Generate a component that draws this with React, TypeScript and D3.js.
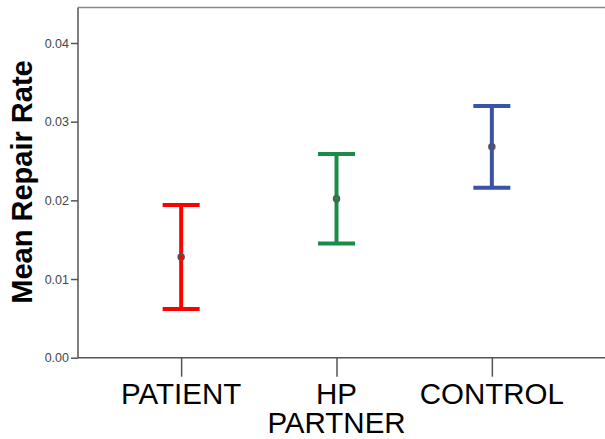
import React, { useEffect, useRef } from 'react';
import * as d3 from 'd3';

const groups = ['PATIENT', 'HP PARTNER', 'CONTROL'];
const means = [0.0128, 0.0202, 0.0268];
const lower = [0.0062, 0.0145, 0.0216];
const upper = [0.0194, 0.0259, 0.032];
const colors = ['#ff0000', '#1a8c47', '#3a53a6'];
const yTicks = [0, 0.01, 0.02, 0.03, 0.04];

const width = 605;
const height = 439;

const App = () => {
  const container = useRef(null);

  useEffect(() => {
    const svg = d3
      .select(container.current)
      .selectAll('svg')
      .data([0])
      .join('svg')
      .attr('width', width)
      .attr('height', height)
      .style('position', 'absolute')
      .style('left', 0)
      .style('top', 0)
      .style('font-family', 'Arial, "Liberation Sans", sans-serif');

    svg.selectAll('*').remove();

    const left = 78;
    const top = 7.5;
    const bottom = 357.7;

    const yScale = d3.scaleLinear().domain([0, 0.04]).range([bottom, 43]);
    const xScale = d3
      .scalePoint()
      .domain(groups)
      .range([left, 595])
      .padding(0.664);

    // frame
    svg
      .append('line')
      .attr('x1', left)
      .attr('x2', width)
      .attr('y1', top)
      .attr('y2', top)
      .style('stroke', '#8a8a8a')
      .style('stroke-width', 1.5);
    svg
      .append('line')
      .attr('x1', left)
      .attr('x2', left)
      .attr('y1', top)
      .attr('y2', bottom)
      .style('stroke', '#555')
      .style('stroke-width', 1.5);
    svg
      .append('line')
      .attr('x1', left)
      .attr('x2', width)
      .attr('y1', bottom)
      .attr('y2', bottom)
      .style('stroke', '#555')
      .style('stroke-width', 1.5);

    // y axis
    const yAxis = d3
      .axisLeft(yScale)
      .tickValues(yTicks)
      .tickFormat(d3.format('.2f'))
      .tickSize(7)
      .tickPadding(2);
    const yg = svg
      .append('g')
      .attr('transform', `translate(${left},0)`)
      .call(yAxis);
    yg.select('.domain').remove();
    yg.selectAll('line').style('stroke', '#555').style('stroke-width', 1.5);
    yg.selectAll('text')
      .style('font-size', '12.5px')
      .style('fill', '#444')
      .style('font-family', 'Arial, "Liberation Sans", sans-serif');

    // x axis
    const xAxis = d3.axisBottom(xScale).tickSize(19).tickFormat(() => '');
    const xg = svg
      .append('g')
      .attr('transform', `translate(0,${bottom})`)
      .call(xAxis);
    xg.select('.domain').remove();
    xg.selectAll('line').style('stroke', '#555').style('stroke-width', 1.5);

    groups.forEach(g => {
      const words = g.split(' ');
      const t = svg
        .append('text')
        .attr('text-anchor', 'middle')
        .style('font-size', '29.5px')
        .style('fill', '#000');
      words.forEach((w, i) => {
        t.append('tspan')
          .attr('x', xScale(g))
          .attr('y', 403.5 + i * 29.5)
          .text(w);
      });
    });

    // y title
    svg
      .append('text')
      .attr('transform', `translate(32,182)rotate(-90)`)
      .attr('text-anchor', 'middle')
      .style('font-size', '29px')
      .style('font-weight', 'bold')
      .style('fill', '#000')
      .text('Mean Repair Rate');

    // error bars
    const capW = 37;
    const bars = svg
      .selectAll('.ebar')
      .data(groups)
      .join('g')
      .attr('class', 'ebar');

    bars
      .append('line')
      .attr('x1', d => xScale(d))
      .attr('x2', d => xScale(d))
      .attr('y1', (d, i) => yScale(upper[i]))
      .attr('y2', (d, i) => yScale(lower[i]))
      .style('stroke', (d, i) => colors[i])
      .style('stroke-width', 4);
    bars
      .append('line')
      .attr('x1', d => xScale(d) - capW / 2)
      .attr('x2', d => xScale(d) + capW / 2)
      .attr('y1', (d, i) => yScale(upper[i]))
      .attr('y2', (d, i) => yScale(upper[i]))
      .style('stroke', (d, i) => colors[i])
      .style('stroke-width', 4);
    bars
      .append('line')
      .attr('x1', d => xScale(d) - capW / 2)
      .attr('x2', d => xScale(d) + capW / 2)
      .attr('y1', (d, i) => yScale(lower[i]))
      .attr('y2', (d, i) => yScale(lower[i]))
      .style('stroke', (d, i) => colors[i])
      .style('stroke-width', 4);
    bars
      .append('circle')
      .attr('cx', d => xScale(d))
      .attr('cy', (d, i) => yScale(means[i]))
      .attr('r', 3)
      .style('fill', (d, i) => colors[i])
      .style('stroke', '#555')
      .style('stroke-width', 1.5);
  }, []);

  return <div ref={container}></div>;
};

export default App;
